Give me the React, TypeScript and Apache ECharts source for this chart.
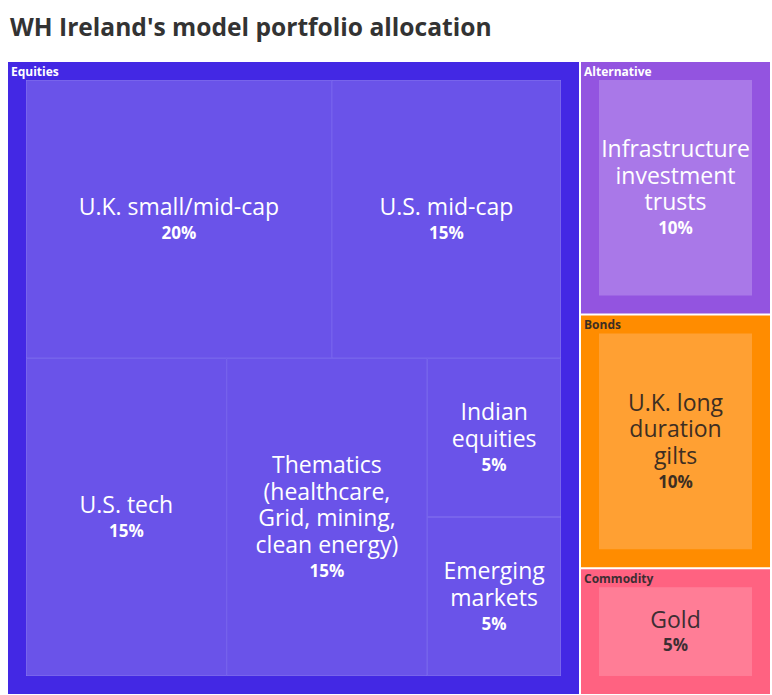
import React, { useEffect, useRef } from "react";
import * as echarts from "echarts";

const titleText = "WH Ireland's model portfolio allocation";
const groups = ["Equities", "Alternative", "Bonds", "Commodity"];
const groupBorderColors = ["#4328e4", "#9354e0", "#ff8c00", "#ff6281"];
const groupLeafColors = ["#6a53e9", "#a978e8", "#ffa033", "#ff7d96"];
const groupLineColors = ["#8777ef", "#a978e8", "#ffa033", "#ff7d96"];
const groupTextColors = ["#ffffff", "#ffffff", "#3d2e22", "#3d2e33"];
const leafNames = [
  [
    "U.K. small/mid-cap",
    "U.S. mid-cap",
    "U.S. tech",
    "Thematics\n(healthcare,\nGrid, mining,\nclean energy)",
    "Indian\nequities",
    "Emerging\nmarkets",
  ],
  ["Infrastructure\ninvestment\ntrusts"],
  ["U.K. long\nduration\ngilts"],
  ["Gold"],
];
const leafValues = [[20, 15, 15, 15, 5, 5], [10], [10], [5]];

const FONT = "'Open Sans', 'Noto Sans', sans-serif";
const NAME_LH = 26.5;
const PCT_LH = 26;
const LEAF_BORDER = 0.5;

export default function App() {
  const ref = useRef<HTMLDivElement>(null);
  useEffect(() => {
    if (!ref.current) return;
    const chart = echarts.init(ref.current, null, { renderer: "svg" });

    const buildData = (pads: Record<string, number>) =>
      groups.map((g, gi) => ({
        name: g,
        itemStyle: { borderColor: groupBorderColors[gi], color: groupBorderColors[gi] },
        upperLabel: { color: groupTextColors[gi] },
        children: leafNames[gi].map((n, li) => ({
          name: n,
          value: leafValues[gi][li],
          itemStyle: {
            color: groupLeafColors[gi],
            borderColor: groupLineColors[gi],
            borderWidth: LEAF_BORDER,
          },
          label: {
            padding: [pads[n] ?? 0, 0, 0, 0],
            rich: {
              name: { fontSize: 23, lineHeight: NAME_LH, color: groupTextColors[gi], fontFamily: FONT },
              pct: { fontSize: 17, lineHeight: PCT_LH, fontWeight: "bold", color: groupTextColors[gi], fontFamily: FONT },
            },
          },
        })),
      }));

    const makeOption = (pads: Record<string, number>) => ({
      animation: false,
      title: {
        text: titleText,
        left: 5,
        top: 9,
        textStyle: { fontSize: 24.6, fontWeight: "bold", color: "#333333", fontFamily: FONT },
      },
      series: [
        {
          type: "treemap",
          left: 8,
          top: 62,
          width: 762,
          height: 632,
          sort: false,
          squareRatio: 1,
          roam: false,
          nodeClick: false,
          breadcrumb: { show: false },
          emphasis: { disabled: true },
          label: {
            show: true,
            position: "inside",
            formatter: (p: any) => {
              const lines = String(p.name).split("\n").map((l) => `{name|${l}}`);
              return lines.join("\n") + `\n{pct|${p.value}%}`;
            },
          },
          upperLabel: { show: false },
          levels: [
            { itemStyle: { borderWidth: 0, gapWidth: 2, borderColor: "#ffffff" } },
            {
              itemStyle: { borderWidth: 18, gapWidth: 0 },
              upperLabel: {
                show: true,
                height: 18,
                fontSize: 12,
                fontWeight: "bold",
                fontFamily: FONT,
                padding: [0, 0, 0, 0],
                offset: [-15, 0],
                formatter: "{b}",
              },
            },
            { itemStyle: { gapWidth: 0 } },
          ],
          data: buildData(pads),
        },
      ],
    });

    chart.setOption(makeOption({}));

    // second pass: vertically centre the leaf labels using the library's own layout
    try {
      const seriesModel = (chart as any).getModel().getSeriesByIndex(0);
      const tree = seriesModel.getData().tree;
      const pads: Record<string, number> = {};
      tree.root.eachNode((node: any) => {
        if (node.children && node.children.length) return;
        if (node.depth !== 2) return;
        const l = node.getLayout();
        if (!l) return;
        const name = node.name as string;
        const nLines = name.split("\n").length;
        const textH = nLines * NAME_LH + PCT_LH;
        const h = l.height - 2 * LEAF_BORDER;
        pads[name] = Math.max(0, (h - textH) / 2);
      });
      chart.setOption(makeOption(pads));
    } catch (e) {
      // ignore
    }
    return () => chart.dispose();
  }, []);
  return (
    <div
      ref={ref}
      style={{ position: "absolute", left: 0, top: 0, width: 772, height: 695, background: "#fff" }}
    />
  );
}
